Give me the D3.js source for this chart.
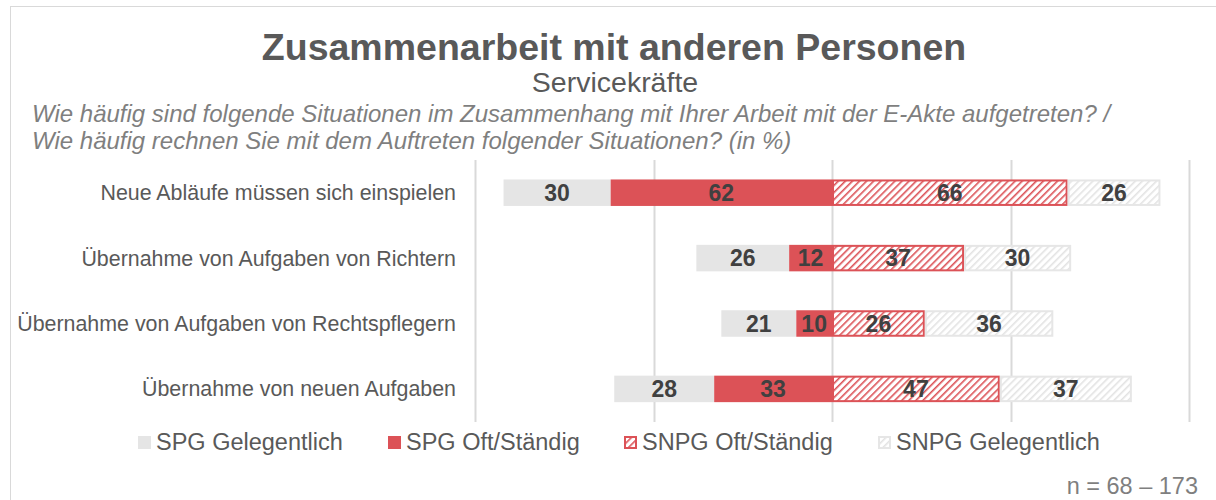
<!DOCTYPE html>
<html>
<head>
<meta charset="utf-8">
<script src="https://cdn.jsdelivr.net/npm/d3@7"></script>
<style>
  html, body { margin: 0; padding: 0; background: #fff; }
  svg { display: block; font-family: "Liberation Sans", Arial, sans-serif; }
</style>
</head>
<body>
<svg id="chart" width="1216" height="500"></svg>
<script>
// Categories (top to bottom)
const categories = [
  "Neue Abläufe müssen sich einspielen",
  "Übernahme von Aufgaben von Richtern",
  "Übernahme von Aufgaben von Rechtspflegern",
  "Übernahme von neuen Aufgaben"
];
// Series values in percent
const spgGelegentlich  = [30, 26, 21, 28];
const spgOft           = [62, 12, 10, 33];
const snpgOft          = [66, 37, 26, 47];
const snpgGelegentlich = [26, 30, 36, 37];

const seriesNames = ["SPG Gelegentlich", "SPG Oft/Ständig", "SNPG Oft/Ständig", "SNPG Gelegentlich"];
const gridTicks = [-100, -50, 0, 50, 100];

const titleText = "Zusammenarbeit mit anderen Personen";
const subtitleText = "Servicekräfte";
const questionLines = [
  "Wie häufig sind folgende Situationen im Zusammenhang mit Ihrer Arbeit mit der E-Akte aufgetreten? /",
  "Wie häufig rechnen Sie mit dem Auftreten folgender Situationen? (in %)"
];
const nText = "n = 68 – 173";

const RED = "#dc5257";
const LIGHT = "#e5e5e5";

const svg = d3.select("#chart");

// Diagonal hatch patterns for the SNPG series
const defs = svg.append("defs");
function hatch(id, color, bg) {
  const p = defs.append("pattern")
    .attr("id", id)
    .attr("patternUnits", "userSpaceOnUse")
    .attr("width", 5).attr("height", 5)
    .attr("patternTransform", "rotate(45)");
  p.append("rect").attr("width", 5).attr("height", 5).attr("fill", bg);
  p.append("rect").attr("x", 0).attr("y", 0).attr("width", 1.6).attr("height", 5).attr("fill", color);
}
hatch("hatchRed", RED, "#fff");
hatch("hatchGrey", "#e3e3e3", "#fff");

// Outer frame
svg.append("rect")
  .attr("x", 10.5).attr("y", 6.5)
  .attr("width", 1230).attr("height", 520)
  .attr("fill", "none").attr("stroke", "#d9d9d9").attr("stroke-width", 1);

// Titles
svg.append("text")
  .attr("x", 614).attr("y", 60)
  .attr("text-anchor", "middle")
  .attr("font-size", 37.5).attr("font-weight", "bold")
  .attr("fill", "#595959")
  .text(titleText);

svg.append("text")
  .attr("x", 615).attr("y", 92)
  .attr("text-anchor", "middle")
  .attr("font-size", 28.5)
  .attr("fill", "#595959")
  .text(subtitleText);

svg.selectAll("text.q").data(questionLines).enter().append("text")
  .attr("class", "q")
  .attr("x", 32).attr("y", (d, i) => 122 + i * 27)
  .attr("font-size", 24).attr("font-style", "italic")
  .attr("fill", "#7f7f7f")
  .text(d => d);

// Scales
const x = d3.scaleLinear().domain([-100, 100]).range([475, 1189]);
const y = d3.scaleBand().domain(categories).range([160, 421.6]).paddingInner(0.595).paddingOuter(0.2975);

// Grid lines
svg.append("g").selectAll("line").data(gridTicks).enter().append("line")
  .attr("x1", d => Math.round(x(d)) + 0.5).attr("x2", d => Math.round(x(d)) + 0.5)
  .attr("y1", 160).attr("y2", 422)
  .attr("stroke", "#d9d9d9").attr("stroke-width", 2);

// Category labels
svg.append("g").selectAll("text").data(categories).enter().append("text")
  .attr("x", 456)
  .attr("y", d => y(d) + y.bandwidth() / 2)
  .attr("dy", "0.35em")
  .attr("text-anchor", "end")
  .attr("font-size", 21.4)
  .attr("fill", "#595959")
  .text(d => d);

// Build segments: SPG extends left of zero, SNPG to the right
const segs = [];
categories.forEach((c, i) => {
  segs.push({ c, v: spgGelegentlich[i], x0: -(spgOft[i] + spgGelegentlich[i]), x1: -spgOft[i], kind: 0 });
  segs.push({ c, v: spgOft[i], x0: -spgOft[i], x1: 0, kind: 1 });
  segs.push({ c, v: snpgOft[i], x0: 0, x1: snpgOft[i], kind: 2 });
  segs.push({ c, v: snpgGelegentlich[i], x0: snpgOft[i], x1: snpgOft[i] + snpgGelegentlich[i], kind: 3 });
});

const fills = [LIGHT, RED, "url(#hatchRed)", "url(#hatchGrey)"];
const strokes = [null, null, RED, "#e6e6e6"];

const g = svg.append("g");
g.selectAll("rect").data(segs).enter().append("rect")
  .attr("x", d => x(d.x0) + (strokes[d.kind] ? 1 : 0))
  .attr("y", d => y(d.c) + (strokes[d.kind] ? 1 : 0))
  .attr("width", d => x(d.x1) - x(d.x0) - (strokes[d.kind] ? 2 : 0))
  .attr("height", d => y.bandwidth() - (strokes[d.kind] ? 2 : 0))
  .attr("fill", d => fills[d.kind])
  .attr("stroke", d => strokes[d.kind] || "none")
  .attr("stroke-width", 2);

g.selectAll("text").data(segs).enter().append("text")
  .attr("x", d => (x(d.x0) + x(d.x1)) / 2)
  .attr("y", d => y(d.c) + y.bandwidth() / 2)
  .attr("dy", "0.36em")
  .attr("text-anchor", "middle")
  .attr("font-size", 23).attr("font-weight", "bold")
  .attr("fill", "#404040")
  .text(d => d.v);

// Legend
const legendX = [138, 388, 624, 878];
const leg = svg.append("g");
seriesNames.forEach((name, i) => {
  const k = i;
  leg.append("rect")
    .attr("x", legendX[i] + (strokes[k] ? 1 : 0)).attr("y", 436 + (strokes[k] ? 1 : 0))
    .attr("width", 13 - (strokes[k] ? 2 : 0)).attr("height", 13 - (strokes[k] ? 2 : 0))
    .attr("fill", fills[k])
    .attr("stroke", strokes[k] || "none").attr("stroke-width", 2);
  leg.append("text")
    .attr("x", legendX[i] + 18).attr("y", 450)
    .attr("font-size", 23.5).attr("fill", "#595959")
    .text(name);
});

svg.append("text")
  .attr("x", 1198).attr("y", 494)
  .attr("text-anchor", "end")
  .attr("font-size", 23.5).attr("fill", "#7f7f7f")
  .text(nText);
</script>
</body>
</html>
